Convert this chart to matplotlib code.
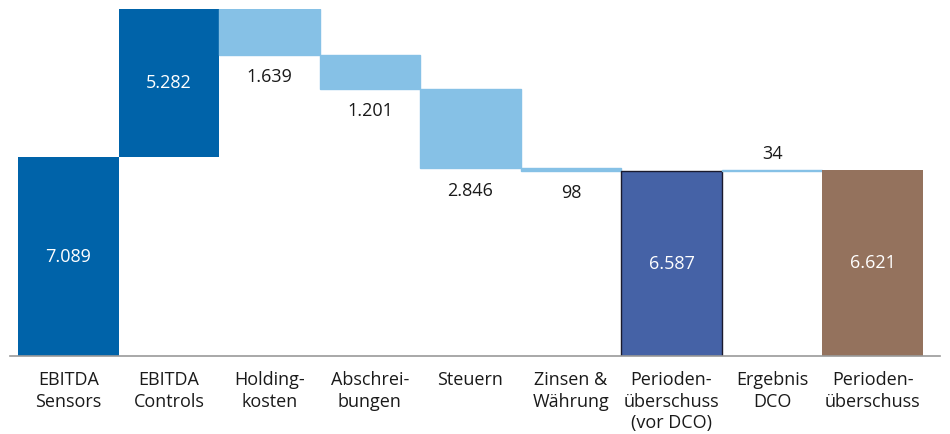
import numpy as np
import matplotlib.pyplot as plt

plt.rcParams['font.family'] = ['Open Sans', 'DejaVu Sans']

# Daten (Mio. EUR)
labels = ['EBITDA\nSensors', 'EBITDA\nControls', 'Holding-\nkosten', 'Abschrei-\nbungen',
          'Steuern', 'Zinsen &\nWährung', 'Perioden-\nüberschuss\n(vor DCO)',
          'Ergebnis\nDCO', 'Perioden-\nüberschuss']
values = [7089, 5282, -1639, -1201, -2846, -98, 6587, 34, 6621]
kinds = ['step', 'step', 'step', 'step', 'step', 'step', 'total', 'step', 'total']
value_text = ['7.089', '5.282', '1.639', '1.201', '2.846', '98', '6.587', '34', '6.621']

dark = '#0063a9'
light = '#86c1e6'
total1 = '#4562a6'
total2 = '#94725d'

fig = plt.figure(figsize=(9.5, 4.34), dpi=100)
ax = fig.add_axes([10 / 950, 1 - 356 / 434, 930 / 950, 347 / 434])

x = np.arange(len(values))
bottoms = []
heights = []
running = 0
for v, k in zip(values, kinds):
    if k == 'total':
        bottoms.append(0)
        heights.append(v)
        running = v
    elif v >= 0:
        bottoms.append(running)
        heights.append(v)
        running += v
    else:
        bottoms.append(running + v)
        heights.append(-v)
        running += v

colors = []
for i, (v, k) in enumerate(zip(values, kinds)):
    if k == 'total':
        colors.append(total1 if i == 6 else total2)
    elif i < 2:
        colors.append(dark)
    else:
        colors.append(light)

bars = ax.bar(x, heights, bottom=bottoms, width=1.0, color=colors, linewidth=0)
# duenne Balken etwas sichtbarer machen
for i, b in enumerate(bars):
    if colors[i] == light:
        b.set_edgecolor(light)
        b.set_linewidth(1.0)
bars[6].set_edgecolor('#1a1a2e')
bars[6].set_linewidth(1.0)

for i in range(len(values)):
    b = bottoms[i]
    h = heights[i]
    if colors[i] in (dark, total1, total2):
        ax.text(x[i], b + h / 2, value_text[i], ha='center', va='center',
                color='white', fontsize=13)
    elif values[i] < 0:
        ax.annotate(value_text[i], (x[i], b), xytext=(0, -16), textcoords='offset points',
                    ha='center', va='center', fontsize=13, color='#1a1a1a')
    else:
        ax.annotate(value_text[i], (x[i], b + h), xytext=(0, 12), textcoords='offset points',
                    ha='center', va='center', fontsize=13, color='#1a1a1a')

ax.set_xlim(-0.58, 8.67)
ax.set_ylim(0, 12371)
ax.set_yticks([])
ax.set_xticks(x)
ax.set_xticklabels(labels, fontsize=13, color='#1a1a1a', linespacing=1.25)
ax.tick_params(axis='x', length=0, pad=11)
for s in ['top', 'right', 'left']:
    ax.spines[s].set_visible(False)
ax.spines['bottom'].set_color('#9a9a9a')
ax.spines['bottom'].set_linewidth(1.2)

fig.savefig('out.png', dpi=100)
